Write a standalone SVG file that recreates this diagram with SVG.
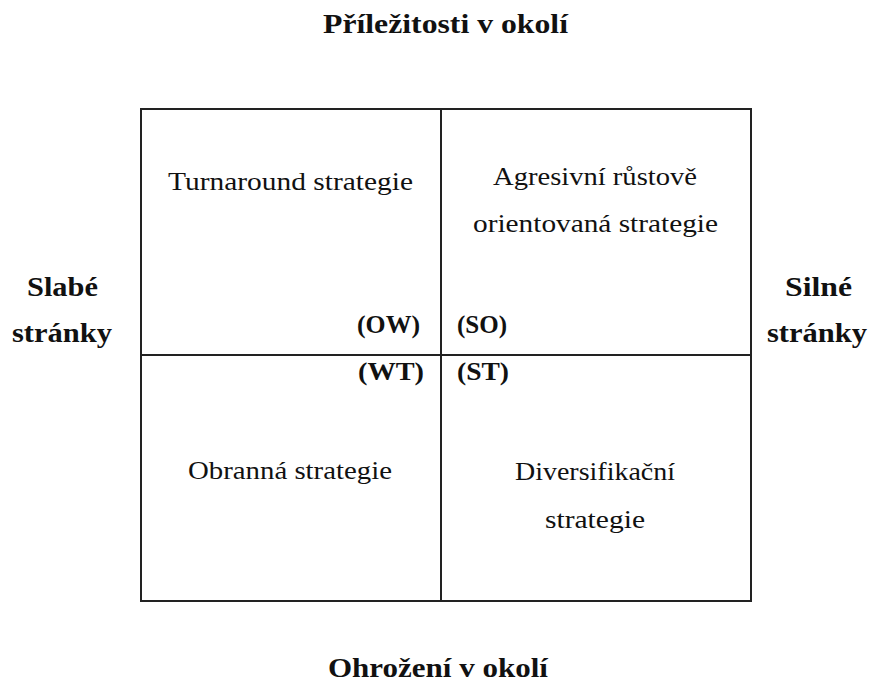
<svg xmlns="http://www.w3.org/2000/svg" width="871" height="684" viewBox="0 0 871 684">
<style>
.t{font-family:"Liberation Serif","DejaVu Serif",serif;font-size:26px;fill:#111;}
.b{font-family:"Liberation Serif","DejaVu Serif",serif;font-size:27px;font-weight:bold;fill:#111;}
.s{font-size:26px;}
.ln{stroke:#222;stroke-width:2;fill:none;}
</style>
<rect width="871" height="684" fill="#fff"/>
<g id="axes">
<text class="b" x="323" y="33" textLength="245" lengthAdjust="spacingAndGlyphs">Příležitosti v okolí</text>
<text class="b" x="328" y="677" textLength="220" lengthAdjust="spacingAndGlyphs">Ohrožení v okolí</text>
<text class="b" x="27" y="296" textLength="71" lengthAdjust="spacingAndGlyphs">Slabé</text>
<text class="b" x="12" y="342" textLength="100" lengthAdjust="spacingAndGlyphs">stránky</text>
<text class="b" x="785" y="296" textLength="67" lengthAdjust="spacingAndGlyphs">Silné</text>
<text class="b" x="767" y="342" textLength="100" lengthAdjust="spacingAndGlyphs">stránky</text>
</g>
<g id="connectors">
<rect class="ln" x="141" y="109" width="610" height="492"/>
<line class="ln" x1="441" y1="109" x2="441" y2="601"/>
<line class="ln" x1="141" y1="355" x2="751" y2="355"/>
</g>
<g id="ow">
<text class="t" x="168" y="190" textLength="245" lengthAdjust="spacingAndGlyphs">Turnaround strategie</text>
<text class="b s" x="357" y="333" textLength="63" lengthAdjust="spacingAndGlyphs">(OW)</text>
</g>
<g id="so">
<text class="t" x="493" y="185" textLength="204" lengthAdjust="spacingAndGlyphs">Agresivní růstově</text>
<text class="t" x="473" y="232" textLength="245" lengthAdjust="spacingAndGlyphs">orientovaná strategie</text>
<text class="b s" x="457" y="333" textLength="50" lengthAdjust="spacingAndGlyphs">(SO)</text>
</g>
<g id="wt">
<text class="t" x="188" y="479" textLength="204" lengthAdjust="spacingAndGlyphs">Obranná strategie</text>
<text class="b s" x="358" y="380" textLength="66" lengthAdjust="spacingAndGlyphs">(WT)</text>
</g>
<g id="st">
<text class="t" x="515" y="480" textLength="160" lengthAdjust="spacingAndGlyphs">Diversifikační</text>
<text class="t" x="545" y="528" textLength="100" lengthAdjust="spacingAndGlyphs">strategie</text>
<text class="b s" x="457" y="380" textLength="52" lengthAdjust="spacingAndGlyphs">(ST)</text>
</g>
</svg>
